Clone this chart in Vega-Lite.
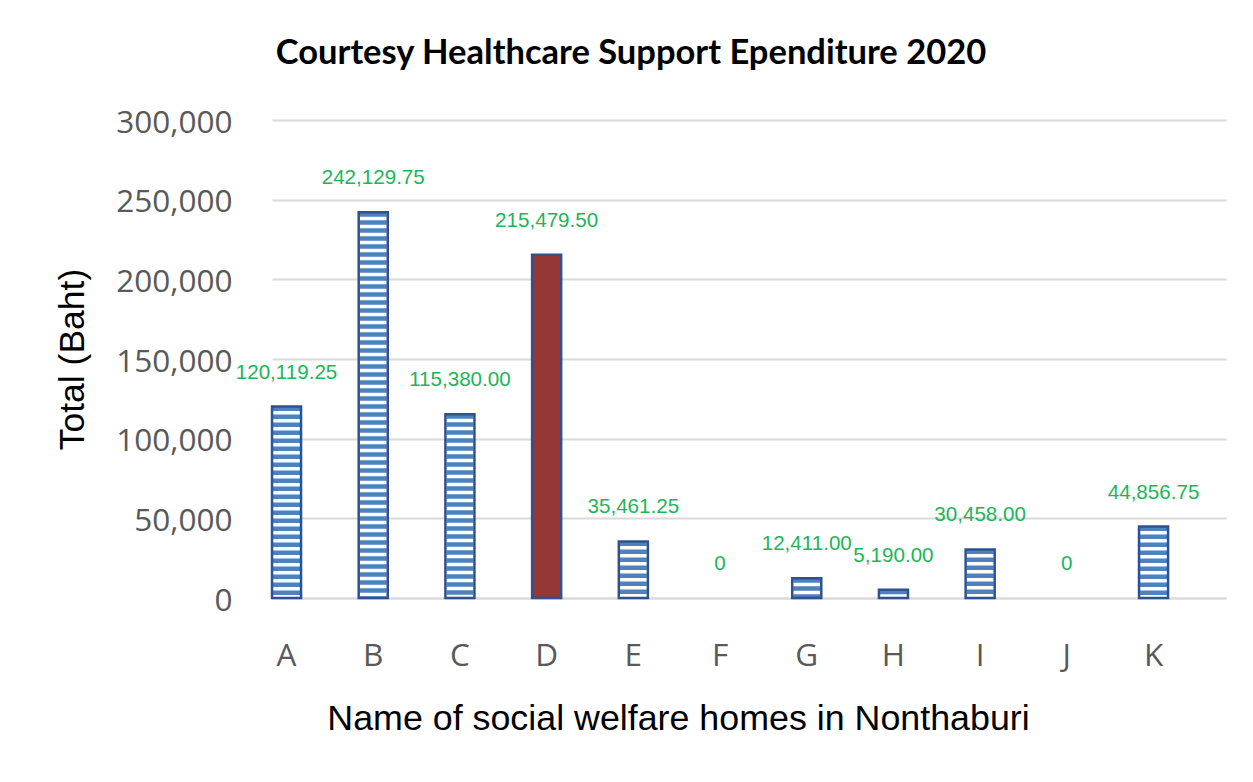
{
  "$schema": "https://vega.github.io/schema/vega-lite/v6.json",
  "width": 954,
  "height": 478,
  "autosize": {"type": "none"},
  "padding": {"left": 272, "top": 120, "right": 27, "bottom": 184},
  "background": "white",
  "title": {
    "text": "Courtesy Healthcare Support Ependiture 2020",
    "font": "Lato",
    "fontWeight": "bold",
    "fontSize": 34.5,
    "color": "#000000",
    "anchor": "middle",
    "frame": "group",
    "dx": -118,
    "offset": 36
  },
  "config": {
    "view": {"stroke": null},
    "axis": {"grid": false}
  },
  "data": {
    "values": [
      {"name": "A", "value": 120119.25},
      {"name": "B", "value": 242129.75},
      {"name": "C", "value": 115380.00},
      {"name": "D", "value": 215479.50},
      {"name": "E", "value": 35461.25},
      {"name": "F", "value": 0},
      {"name": "G", "value": 12411.00},
      {"name": "H", "value": 5190.00},
      {"name": "I", "value": 30458.00},
      {"name": "J", "value": 0},
      {"name": "K", "value": 44856.75}
    ]
  },
  "encoding": {
    "x": {
      "field": "name",
      "type": "nominal",
      "sort": null,
      "scale": {
        "domain": ["A", "B", "C", "D", "E", "F", "G", "H", "I", "J", "K"],
        "paddingInner": 0.665,
        "paddingOuter": 0.334,
        "align": 0
      },
      "axis": {
        "title": "Name of social welfare homes in Nonthaburi",
        "titleFont": "Liberation Sans",
        "titleFontSize": 35.8,
        "titleFontWeight": "normal",
        "titleColor": "#000000",
        "titleX": 406,
        "titleY": 120,
        "titleBaseline": "middle",
        "titleAlign": "center",
        "labelAngle": 0,
        "labelFont": "Open Sans",
        "labelFontSize": 31.5,
        "labelColor": "#595959",
        "labelBaseline": "middle",
        "labelPadding": 58,
        "ticks": false,
        "tickSize": 0,
        "domain": true,
        "domainColor": "#d9d9d9",
        "domainWidth": 2
      }
    },
    "y": {
      "field": "value",
      "type": "quantitative",
      "scale": {"domain": [0, 300000], "nice": false},
      "axis": {
        "title": "Total (Baht)",
        "titleFont": "Liberation Sans",
        "titleFontSize": 35.5,
        "titleFontWeight": "normal",
        "titleColor": "#000000",
        "titleAngle": -90,
        "titleX": -200,
        "titleY": 239,
        "titleBaseline": "middle",
        "titleAlign": "center",
        "values": [0, 50000, 100000, 150000, 200000, 250000, 300000],
        "format": ",d",
        "labelFont": "Open Sans",
        "labelFontSize": 31.5,
        "labelColor": "#595959",
        "labelPadding": 40,
        "labelOffset": 3,
        "ticks": false,
        "tickSize": 0,
        "domain": false,
        "grid": true,
        "gridColor": "#d9d9d9",
        "gridWidth": 2
      }
    }
  },
  "layer": [
    {
      "transform": [{"filter": "datum.value > 0"}],
      "mark": {"type": "bar"},
      "encoding": {
        "fill": {
          "condition": {"test": "datum.name === 'D'", "value": "#953735"},
          "value": "#ffffff"
        }
      }
    },
    {
      "transform": [{"filter": "datum.value > 0 && datum.name !== 'D'"}],
      "mark": {
        "type": "rule",
        "strokeWidth": 27,
        "strokeDash": [4.5, 3.5],
        "strokeCap": "butt",
        "color": "#4F81BD"
      },
      "encoding": {
        "y2": {"datum": 0}
      }
    },
    {
      "transform": [{"filter": "datum.value > 0"}],
      "mark": {
        "type": "bar",
        "fillOpacity": 0,
        "stroke": "#2F528F",
        "strokeWidth": 2.5
      }
    },
    {
      "mark": {
        "type": "text",
        "font": "Liberation Sans",
        "fontSize": 20.6,
        "color": "#1DB55A",
        "baseline": "middle",
        "align": "center",
        "dy": -34
      },
      "encoding": {
        "text": {
          "condition": {"test": "datum.value === 0", "value": "0"},
          "field": "value",
          "type": "quantitative",
          "format": ",.2f"
        }
      }
    }
  ]
}
